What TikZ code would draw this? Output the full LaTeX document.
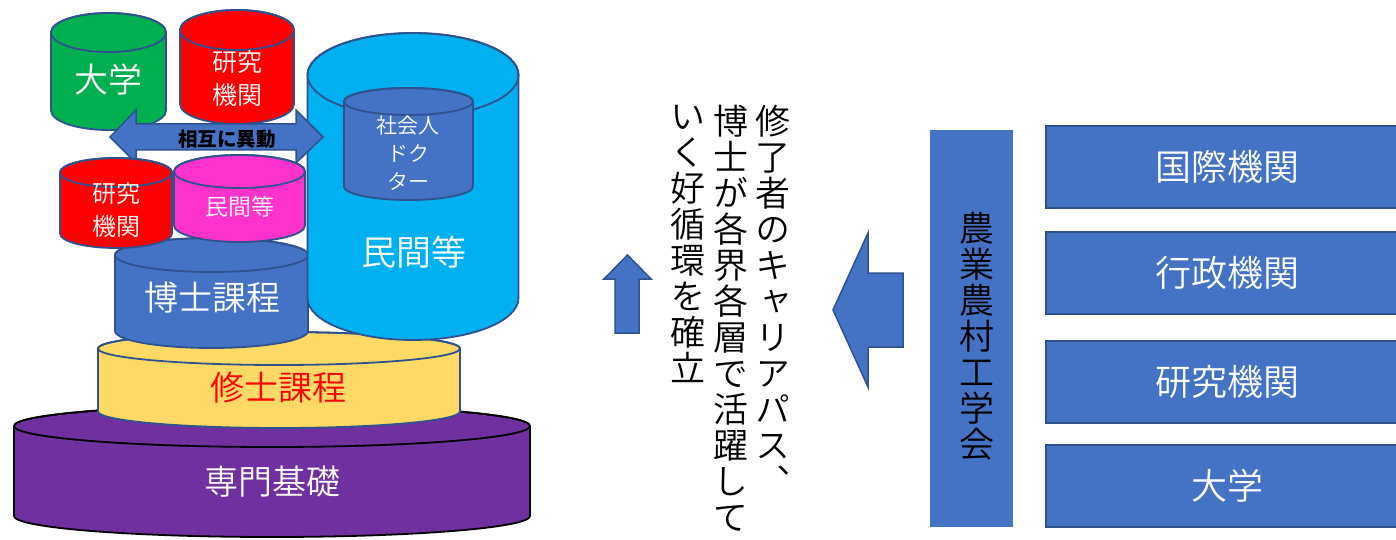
\documentclass[tikz,border=0pt]{standalone}
\usepackage{fontspec}
\IfFontExistsTF{Noto Sans CJK JP DemiLight}{%
  \setmainfont{Noto Sans CJK JP DemiLight}[BoldFont={Noto Sans CJK JP Bold}]%
  \newfontfamily\vjp[RawFeature=+vert]{Noto Sans CJK JP DemiLight}%
}{%
  \IfFontExistsTF{Noto Sans CJK JP Light}{%
    \setmainfont{Noto Sans CJK JP Light}[BoldFont={Noto Sans CJK JP Bold}]%
    \newfontfamily\vjp[RawFeature=+vert]{Noto Sans CJK JP Light}%
  }{%
    \setmainfont{Noto Sans CJK JP}%
    \newfontfamily\vjp[RawFeature=+vert]{Noto Sans CJK JP}%
  }%
}
\newfontfamily\boldjp{Noto Sans CJK JP}
\definecolor{cgreen}{HTML}{00B050}
\definecolor{cred}{HTML}{FF0000}
\definecolor{clblue}{HTML}{00B0F0}
\definecolor{cblue}{HTML}{4472C4}
\definecolor{cedge}{HTML}{2F528F}
\definecolor{cpink}{HTML}{FF33CC}
\definecolor{cyellow}{HTML}{FFD966}
\definecolor{cpurple}{HTML}{7030A0}
\newcommand{\cylshape}[7]{%
  \filldraw[fill=#6, draw=#7, line width=1.8pt, line join=round]
    (#1-#4, #2) -- (#1-#4, #3)
    arc[start angle=180, end angle=360, x radius=#4pt, y radius=#5pt]
    -- (#1+#4, #2)
    arc[start angle=0, end angle=180, x radius=#4pt, y radius=#5pt] -- cycle;
  \draw[draw=#7, line width=1.8pt] (#1,#2) ellipse[x radius=#4pt, y radius=#5pt];
}
\tikzset{
  fs/.style={font=\fontsize{#1}{#1}\selectfont},
  wtext/.style={text=white, inner sep=0pt, align=center},
  arrowshape/.style={fill=cblue, draw=cedge, line width=1.5pt, line join=miter},
  vtext/.style={inner sep=0pt, align=center, text=black, anchor=north,
    font=\fontsize{35}{36}\vjp\selectfont},
  rbox/.style={fill=cblue, draw=cedge, line width=2pt, minimum width=362pt,
    minimum height=82pt, inner sep=0pt, text=white, font=\fontsize{36}{40}\selectfont},
}
\begin{document}
\begin{tikzpicture}[x=1pt, y=-1pt]
\useasboundingbox (0,0) rectangle (1396,540);
\clip (0,0) rectangle (1396,540);
\fill[white] (0,0) rectangle (1396,540);

% stack of cylinders
\cylshape{272}{426}{516}{258}{21}{cpurple}{black}
\node[wtext, fs=34] (senmon) at (272,482) {専門基礎};
\cylshape{279}{348.5}{411.5}{181}{16.5}{cyellow}{cedge}
\node[wtext, fs=34, text=cred] (shushi) at (278,388) {修士課程};
\cylshape{211.5}{255}{331}{96.5}{17}{cblue}{cedge}
\node[wtext, fs=34] (hakase) at (212,298) {博士課程};
\cylshape{413}{75}{298}{105.5}{42}{clblue}{cedge}
\node[wtext, fs=35] (minkan) at (414,252) {民間等};
\cylshape{408.5}{101.5}{186.5}{64.5}{13.5}{cblue}{cedge}
\node[wtext, fs=21, align=center] (shakai) at (408,153) {社会人\\[7pt]ドク\\[7pt]ター};
\cylshape{108.5}{32.5}{110.5}{57.5}{19.5}{cgreen}{cedge}
\node[wtext, fs=34] (daigaku) at (108,80) {大学};
\cylshape{237}{30}{104}{57}{20}{cred}{cedge}
\node[wtext, fs=25] (kenkyu1) at (237,79) {研究\\[8pt]機関};

% double arrow
\draw[arrowshape] (110,137) -- (136,110) -- (136,124) -- (296,124) -- (296,110)
  -- (323,137) -- (296,163) -- (296,150) -- (136,150) -- (136,163) -- cycle;
\node[inner sep=0pt, text=black, font=\fontsize{19.5}{20}\boldjp\bfseries] (idou) at (227,139) {相互に異動};

\cylshape{116}{172.5}{233.5}{56}{14.5}{cred}{cedge}
\node[wtext, fs=24] (kenkyu2) at (116,210) {研究\\[9pt]機関};
\cylshape{239.5}{171.5}{225.5}{65.5}{16.5}{cpink}{cedge}
\node[wtext, fs=23] (minkan2) at (240,207) {民間等};

% up arrow
\draw[arrowshape] (615,333) -- (615,279) -- (604,279) -- (627.5,255) -- (651,279)
  -- (639,279) -- (639,333) -- cycle;
% left arrow
\draw[arrowshape] (833,310) -- (868,233) -- (868,273) -- (903,273) -- (903,347)
  -- (868,347) -- (868,387) -- cycle;

% vertical text
\node[vtext] (col1) at (773,105) {修\\了\\者\\の\\キ\\ャ\\リ\\ア\\パ\\ス\\、};
\node[vtext] (col2) at (731,105) {博\\士\\が\\各\\界\\各\\層\\で\\活\\躍\\し\\て};
\node[vtext] (col3) at (688,105) {い\\く\\好\\循\\環\\を\\確\\立};

% society box
\fill[cblue] (930,130) rectangle (1013,527);
\node[vtext, font=\fontsize{35}{36}\vjp\selectfont] (gakkai) at (977,212) {農\\業\\農\\村\\工\\学\\会};
\node (gakkaibox) at (971.5,328.5) [minimum width=83pt, minimum height=397pt, inner sep=0pt] {};

% right boxes
\node[rbox] (b1) at (1227,167) {国際機関};
\node[rbox] (b2) at (1227,273) {行政機関};
\node[rbox] (b3) at (1227,381.5) {研究機関};
\node[rbox] (b4) at (1227,486) {大学};
\end{tikzpicture}
\end{document}
